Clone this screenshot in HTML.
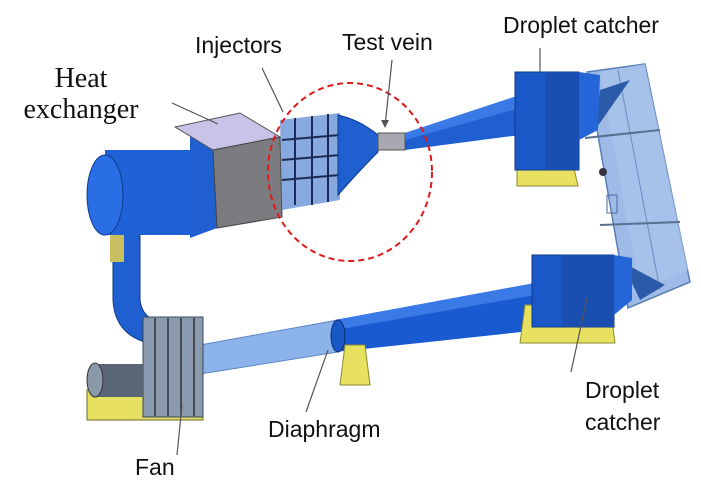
<!DOCTYPE html>
<html><head><meta charset="utf-8"><style>
html,body{margin:0;padding:0;background:#fff;}
svg{display:block}
.s{font-family:"Liberation Sans",sans-serif;font-size:23px;fill:#111}
.r{font-family:"Liberation Serif",serif;font-size:28px;fill:#111}
</style></head><body>
<svg width="701" height="500" viewBox="0 0 701 500" xmlns="http://www.w3.org/2000/svg">
<rect width="701" height="500" fill="#fff"/>
<!-- right panel -->
<polygon points="587,72 645,64 690,282 628,308" fill="#9dbbe6" stroke="#5a7fb8" stroke-width="1.5"/>
<polygon points="600,72 645,64 688,270 640,290" fill="#a9c5ec" opacity="0.7"/>
<line x1="618" y1="70" x2="660" y2="290" stroke="#6b8cc0"/>
<line x1="585" y1="138" x2="660" y2="130" stroke="#5a7090" stroke-width="2"/>
<line x1="600" y1="225" x2="680" y2="222" stroke="#5a7090" stroke-width="2"/>
<path d="M600,90 L630,80 L595,130 Z" fill="#2a5aa8"/>
<path d="M622,262 L665,285 L640,300 Z" fill="#2a5aa8"/>
<rect x="607" y="195" width="10" height="18" fill="none" stroke="#4a6aa0"/>
<circle cx="603" cy="172" r="4" fill="#334"/>
<!-- upper diffuser pipe -->
<polygon points="405,133 520,95 520,135 405,150" fill="#1f5fd0"/>
<polygon points="405,133 520,95 520,108 405,140" fill="#3a7ae6"/>
<!-- upper droplet catcher -->
<polygon points="517,164 573,164 578,186 517,186" fill="#e8e060" stroke="#8a8a30"/>
<rect x="515" y="72" width="64" height="98" fill="#1a58c8" stroke="#0d3a8a"/>
<rect x="545" y="72" width="34" height="98" fill="#1a4eb0"/>
<polygon points="579,72 600,75 598,130 579,140" fill="#2466d8"/>
<!-- lower pipe dark -->
<polygon points="335,320 535,283 540,330 335,352" fill="#1a5ad0"/>
<polygon points="335,320 535,283 535,295 335,330" fill="#3a7ae6"/>
<!-- lower droplet catcher -->
<polygon points="525,305 610,305 615,343 520,343" fill="#e8e060" stroke="#8a8a30"/>
<rect x="532" y="255" width="82" height="72" fill="#1a58c8" stroke="#0d3a8a"/>
<rect x="562" y="255" width="52" height="72" fill="#1a4eb0"/>
<polygon points="614,255 632,258 632,300 614,315" fill="#2466d8"/>
<!-- light pipe -->
<polygon points="200,345 338,320 338,352 200,374" fill="#8db4ea" stroke="#5a86c8"/>
<ellipse cx="338" cy="336" rx="7" ry="16" fill="#1a58c8" stroke="#0d2f70"/>
<polygon points="345,345 365,345 370,385 340,385" fill="#e8e060" stroke="#8a8a30"/>
<!-- vertical duct -->
<path d="M113,232 L140,232 L140,300 Q142,318 160,322 L160,345 Q115,340 113,300 Z" fill="#1f5fd0" stroke="#0d3a8a"/>
<rect x="110" y="232" width="14" height="30" fill="#c8c060"/>
<!-- fan -->
<polygon points="87,390 203,390 203,420 87,420" fill="#e8e060" stroke="#6a6a20"/>
<rect x="143" y="317" width="60" height="100" fill="#8a9aae" stroke="#3a4a5a"/>
<g stroke="#333" stroke-width="1.5"><line x1="155" y1="318" x2="155" y2="416"/><line x1="168" y1="318" x2="168" y2="416"/><line x1="181" y1="318" x2="181" y2="416"/><line x1="194" y1="318" x2="194" y2="416"/></g>
<rect x="95" y="364" width="48" height="33" fill="#5a6676"/>
<ellipse cx="95" cy="380" rx="8" ry="17" fill="#8a98aa" stroke="#333"/>
<!-- main cylinder -->
<rect x="105" y="150" width="90" height="85" fill="#1f62d8"/>
<ellipse cx="105" cy="195" rx="18" ry="40" fill="#2a6ee6" stroke="#0d3a8a"/>
<polygon points="190,135 215,150 217,228 190,238" fill="#1f5fd0"/>
<!-- heat exchanger -->
<polygon points="175,127 240,113 280,137 213,150" fill="#c8c4e8" stroke="#555"/>
<polygon points="213,150 280,137 282,217 217,228" fill="#7b7b80" stroke="#444"/>
<!-- injectors & contraction -->
<polygon points="280,120 340,113 340,200 282,210" fill="#6a92d8" opacity="0.8"/>
<g stroke="#1a2a50" stroke-width="2"><line x1="295" y1="118" x2="295" y2="205"/><line x1="312" y1="116" x2="312" y2="205"/><line x1="328" y1="114" x2="328" y2="202"/><line x1="282" y1="140" x2="340" y2="135"/><line x1="282" y1="160" x2="340" y2="155"/><line x1="282" y1="180" x2="340" y2="175"/></g>
<path d="M338,115 Q360,120 378,135 L378,152 Q360,170 338,195 Z" fill="#1f5fd0" stroke="#0d3a8a"/>
<rect x="378" y="133" width="27" height="17" fill="#a8a8b0" stroke="#555"/>
<!-- red circle -->
<ellipse cx="350" cy="172" rx="82" ry="89" fill="none" stroke="#e01818" stroke-width="2" stroke-dasharray="6,4"/>
<!-- leaders -->
<g stroke="#555" stroke-width="1.2">
<line x1="172" y1="103" x2="218" y2="124"/>
<line x1="262" y1="68" x2="283" y2="112"/>
<line x1="392" y1="60" x2="385" y2="126"/>
<line x1="540" y1="48" x2="540" y2="72"/>
<line x1="571" y1="372" x2="587" y2="298"/>
<line x1="306" y1="412" x2="328" y2="350"/>
<line x1="177" y1="455" x2="182" y2="405"/>
</g>
<polygon points="385,128 381,120 389,120" fill="#555"/>
<!-- labels -->
<text class="r" x="81" y="87" text-anchor="middle">Heat</text>
<text class="r" x="81" y="118" text-anchor="middle">exchanger</text>
<text class="s" x="195" y="53">Injectors</text>
<text class="s" x="342" y="50">Test vein</text>
<text class="s" x="503" y="33">Droplet catcher</text>
<text class="s" x="585" y="398">Droplet</text>
<text class="s" x="585" y="430">catcher</text>
<text class="s" x="268" y="437">Diaphragm</text>
<text class="s" x="135" y="475">Fan</text>
</svg>
</body></html>
